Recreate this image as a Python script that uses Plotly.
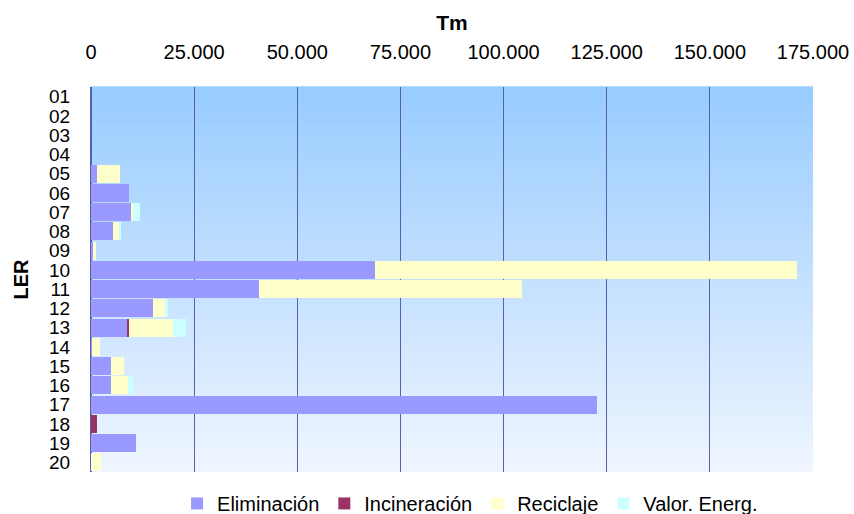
import plotly.graph_objects as go

categories = ["01", "02", "03", "04", "05", "06", "07", "08", "09", "10",
              "11", "12", "13", "14", "15", "16", "17", "18", "19", "20"]
eliminacion = [0, 0, 0, 0, 1450, 9200, 9700, 5330, 400, 68850,
               40700, 15030, 8730, 300, 4850, 4850, 122650, 0, 10900, 0]
incineracion = [0, 0, 0, 0, 0, 0, 0, 0, 0, 0,
                0, 0, 480, 0, 0, 0, 0, 1450, 0, 0]
reciclaje = [0, 0, 0, 0, 5580, 0, 400, 1540, 800, 102300,
             63750, 2900, 10750, 1880, 3070, 4120, 0, 0, 0, 2420]
valor_energ = [0, 0, 0, 0, 0, 0, 1800, 400, 0, 0,
               0, 730, 3070, 0, 0, 1130, 0, 0, 0, 0]
x_ticks = [0, 25000, 50000, 75000, 100000, 125000, 150000, 175000]

series = [
    ("Eliminación", eliminacion, "#9999FF"),
    ("Incineración", incineracion, "#993366"),
    ("Reciclaje", reciclaje, "#FFFFCC"),
    ("Valor. Energ.", valor_energ, "#CCFFFF"),
]

FONT = "Liberation Sans, Arial, sans-serif"
GRID = "#5561AE"

fig = go.Figure()
for name, vals, col in series:
    fig.add_trace(go.Bar(
        y=categories, x=vals, name=name, orientation="h",
        marker=dict(color=col, line=dict(width=0)),
    ))

# vertical gradient background of the plot area
top = (153, 204, 255)
bot = (238, 245, 255)
n = 60
shapes = []
for i in range(n):
    t = i / (n - 1)
    c = tuple(round(top[k] + (bot[k] - top[k]) * t) for k in range(3))
    shapes.append(dict(
        type="rect", xref="x domain", yref="y domain",
        x0=0, x1=1, y0=1 - (i + 1) / n, y1=1 - i / n + 0.002,
        fillcolor="rgb(%d,%d,%d)" % c, line=dict(width=0), layer="below",
    ))

fig.update_layout(
    barmode="stack",
    bargap=0.07,
    width=854, height=514,
    margin=dict(l=91, r=41, t=87, b=42, autoexpand=False),
    paper_bgcolor="white",
    plot_bgcolor="rgba(0,0,0,0)",
    separators=",.",
    font=dict(family=FONT, size=20, color="black"),
    shapes=shapes,
    showlegend=True,
    legend=dict(orientation="h", x=0.525, xanchor="center", y=-0.031, yanchor="top",
                traceorder="normal", font=dict(size=20), itemwidth=30,
                bgcolor="rgba(0,0,0,0)"),
    xaxis=dict(
        side="top", range=[0, 175000], tickvals=x_ticks, tickformat=",d",
        automargin=False,
        showgrid=True, gridcolor=GRID, gridwidth=1,
        zeroline=True, zerolinecolor=GRID, zerolinewidth=1,
        showline=False, ticks="", ticklabelstandoff=23,
        tickfont=dict(size=20),
        title=dict(text="<b>Tm</b>", font=dict(size=21), standoff=4),
    ),
    yaxis=dict(
        type="category", categoryorder="array", categoryarray=categories,
        tickmode="array", tickvals=categories, ticktext=categories,
        automargin=False,
        autorange="reversed", showgrid=False, zeroline=False,
        showline=True, linecolor=GRID, linewidth=1,
        ticks="", ticklabelstandoff=16,
        tickfont=dict(size=19),
        title=dict(text="<b>LER</b>", font=dict(size=20), standoff=15),
    ),
)

fig.write_html("out.html",
               config={"displayModeBar": False},
               post_script="document.body.style.margin='0';document.body.style.overflow='hidden';")
